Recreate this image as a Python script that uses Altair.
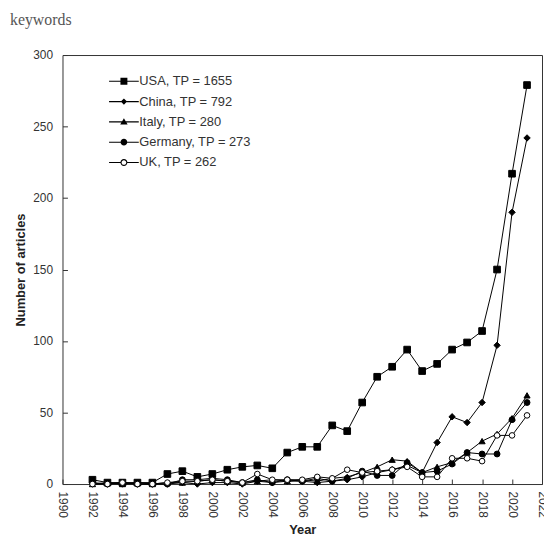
import altair as alt
import pandas as pd

years = list(range(1992, 2022))
usa = [3, 1, 1, 1, 1, 7, 9, 5, 7, 10, 12, 13, 11, 22, 26, 26, 41, 37, 57, 75, 82, 94, 79, 84, 94, 99, 107, 150, 217, 279]
china = [0, 0, 0, 0, 0, 0, 1, 0, 1, 1, 0, 2, 1, 2, 2, 1, 2, 3, 5, 8, 10, 13, 8, 29, 47, 43, 57, 97, 190, 242]
italy = [0, 1, 0, 1, 0, 1, 1, 2, 3, 2, 1, 2, 3, 2, 3, 2, 4, 5, 8, 12, 17, 16, 8, 12, 15, 22, 30, 35, 46, 62]
germany = [1, 0, 1, 0, 0, 0, 3, 3, 4, 3, 1, 3, 1, 3, 2, 4, 2, 4, 9, 6, 6, 15, 8, 9, 14, 22, 21, 21, 45, 57]
uk = [0, 0, 1, 0, 0, 1, 2, 2, 3, 2, 1, 7, 3, 3, 3, 5, 4, 10, 8, 9, 10, 12, 5, 5, 18, 18, 16, 34, 34, 48]

series_names = ["USA, TP = 1655", "China, TP = 792", "Italy, TP = 280",
                "Germany, TP = 273", "UK, TP = 262"]
series_values = [usa, china, italy, germany, uk]
x_ticks = list(range(1990, 2023, 2))
y_ticks = [0, 50, 100, 150, 200, 250, 300]

rows = []
for name, vals in zip(series_names, series_values):
    for yr, v in zip(years, vals):
        rows.append({"year": yr, "articles": v, "country": name})
df = pd.DataFrame(rows)

point_shapes = ["square", "diamond", "triangle-up", "circle", "circle"]
point_sizes = [45, 32, 48, 42, 42]
fills = ["black", "black", "black", "black", "white"]

# legend glyphs: a thin line through the marker (filled paths, unit box -1..1)
LINE = "M-1.2,-0.045H1.2V0.045H-1.2Z"
legend_paths = [
    LINE + "M-0.28,-0.28H0.28V0.28H-0.28Z",
    LINE + "M0,-0.25L0.25,0L0,0.25L-0.25,0Z",
    LINE + "M0,-0.3L0.3,0.22L-0.3,0.22Z",
    LINE + "M0.27,0A0.27,0.27 0 1,1 -0.27,0A0.27,0.27 0 1,1 0.27,0Z",
    "M-1.2,-0.045H-0.27V0.045H-1.2Z M0.27,-0.045H1.2V0.045H0.27Z "
    "M0.28,0A0.28,0.28 0 1,1 -0.28,0A0.28,0.28 0 1,1 0.28,0Z "
    "M0.19,0A0.19,0.19 0 1,0 -0.19,0A0.19,0.19 0 1,0 0.19,0Z",
]

x_enc = alt.X(
    "year:Q",
    scale=alt.Scale(domain=[1990, 2022], nice=False, zero=False),
    axis=alt.Axis(values=x_ticks, format="d", labelAngle=90, title="Year",
                  labelPadding=7, titlePadding=6, labelFlush=False, labelOverlap=False),
)
y_enc = alt.Y(
    "articles:Q",
    scale=alt.Scale(domain=[0, 300], nice=False),
    axis=alt.Axis(values=y_ticks, title="Number of articles",
                  labelPadding=10, titlePadding=5, labelFlush=False, labelOverlap=False),
)

base = alt.Chart(df)

lines = base.mark_line(color="black", strokeWidth=1).encode(
    x=x_enc, y=y_enc, detail="country:N", order="year:Q"
)

points = base.mark_point(stroke="black", strokeWidth=1, opacity=1).encode(
    x=x_enc,
    y=y_enc,
    shape=alt.Shape("country:N", scale=alt.Scale(domain=series_names, range=point_shapes), legend=None),
    fill=alt.Fill("country:N", scale=alt.Scale(domain=series_names, range=fills), legend=None),
    size=alt.Size("country:N", scale=alt.Scale(domain=series_names, range=point_sizes), legend=None),
)

leg = alt.Legend(
    title=None, orient="none", legendX=49.5, legendY=14,
    symbolSize=625, symbolOpacity=1, symbolFillColor="black", symbolStrokeWidth=0,
    labelFont="Liberation Sans", labelFontSize=13, labelColor="#333",
    labelOffset=3, rowPadding=0.5, padding=0,
)

legend_layer = base.transform_filter("false").mark_point(filled=True, color="black", opacity=1).encode(
    x=x_enc,
    y=y_enc,
    shape=alt.Shape("country:N", scale=alt.Scale(domain=series_names, range=legend_paths), legend=leg),
)

chart = (
    alt.layer(lines, points, legend_layer)
    .resolve_scale(shape="independent", fill="independent", size="independent")
    .properties(
        width=484,
        height=433,
        title=alt.Title("keywords", anchor="start", font="Liberation Serif", fontSize=16,
                        fontWeight="normal", color="#555", dx=-5, offset=21),
        autosize=alt.AutoSizeParams(type="none"),
        padding={"left": 55, "top": 45, "right": 2, "bottom": 50},
    )
    .configure_view(stroke="#333", strokeWidth=1)
    .configure_axis(
        labelFont="Liberation Sans", labelFontSize=12, labelColor="#333",
        titleFont="Liberation Sans", titleFontSize=13, titleFontWeight="bold", titleColor="#222",
        tickColor="#333", tickSize=5, offset=-5, domain=False, grid=False,
    )
)

chart.save("out.html", embed_options={"renderer": "svg", "actions": False})
